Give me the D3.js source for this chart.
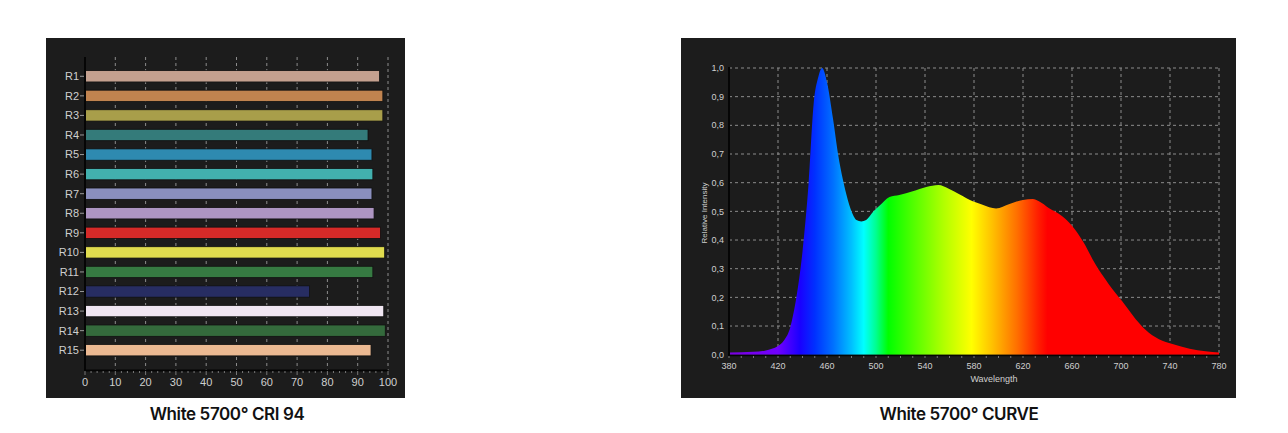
<!DOCTYPE html>
<html>
<head>
<meta charset="UTF-8">
<title>White 5700</title>
<script src="https://d3js.org/d3.v7.min.js"></script>
<style>
  body { margin: 0; background: #fff; }
  svg { display: block; }
  .cap { font-family: Inter, "Liberation Sans", sans-serif; font-weight: 600; font-size: 17px; letter-spacing: -0.4px; fill: #111; }
  .lbl { font-family: "Liberation Sans", Arial, sans-serif; fill: #cfcfcf; }
</style>
</head>
<body>
<svg id="chart" width="1288" height="433"></svg>
<script>
// CRI bars
const criNames = ["R1","R2","R3","R4","R5","R6","R7","R8","R9","R10","R11","R12","R13","R14","R15"];
const criValues = [97.2, 98.3, 98.3, 93.4, 94.7, 95.0, 94.7, 95.4, 97.5, 98.9, 95.0, 74.1, 98.6, 99.1, 94.4];
const criColors = ["#c4a08f","#c0834f","#a89e4a","#347b7a","#2e8ab0","#42b0ae","#8a8fbe","#ad95c2",
                   "#d62a28","#e0dc4e","#367a42","#272d62","#f0e6f2","#346a3c","#ebb992"];
const criTicks = [0,10,20,30,40,50,60,70,80,90,100];

// spectrum curve
const wavelengths = [380,400,410,420,425,430,435,440,445,449,453,456,460,465,469,473,477,481,484,488,492,498,503,511,519,530,541,551,559,568,579,587,598,609,620,628,633,641,652,660,669,679,690,701,712,720,731,742,756,769,780];
const intensity   = [0.008,0.01,0.015,0.03,0.05,0.095,0.2,0.36,0.6,0.87,0.97,1.0,0.95,0.82,0.7,0.61,0.54,0.49,0.47,0.465,0.47,0.5,0.52,0.55,0.557,0.57,0.585,0.592,0.58,0.56,0.535,0.523,0.51,0.526,0.54,0.543,0.535,0.512,0.483,0.45,0.395,0.316,0.246,0.186,0.124,0.087,0.054,0.037,0.021,0.012,0.008];
const xTicksNm = [380,420,460,500,540,580,620,660,700,740,780];
const yTicks = [0,0.1,0.2,0.3,0.4,0.5,0.6,0.7,0.8,0.9,1.0];
const spectrumStops = [
  [380,"#7a00e0"],[420,"#7000ff"],[438,"#1a00ff"],[450,"#0030ff"],[465,"#0070ff"],[480,"#00c0ff"],
  [490,"#00ffff"],[500,"#00ff90"],[510,"#00ff00"],[530,"#50ff00"],[555,"#b0ff00"],[578,"#ffff00"],
  [595,"#ffc000"],[615,"#ff7000"],[632,"#ff2000"],[640,"#ff0000"],[780,"#ff0000"]
];

const svg = d3.select("#chart");
const gridCol = "#8c8c8c";

// ---------- left panel ----------
svg.append("rect").attr("x", 46).attr("y", 38).attr("width", 359).attr("height", 360).attr("fill", "#1c1c1c");

const x1 = d3.scaleLinear().domain([0, 100]).range([85, 388]);
const y1 = d3.scaleBand().domain(criNames).range([66.5, 360]).paddingInner(0.42).paddingOuter(0.21);

const g1 = svg.append("g");
g1.selectAll(".vg").data(criTicks.slice(1)).enter().append("line")
  .attr("x1", d => x1(d)).attr("x2", d => x1(d)).attr("y1", 57).attr("y2", 370)
  .attr("stroke", gridCol).attr("stroke-dasharray", "3,3");

g1.selectAll(".bar").data(criNames).enter().append("rect")
  .attr("x", x1(0)).attr("y", d => y1(d))
  .attr("width", (d, i) => x1(criValues[i]) - x1(0)).attr("height", y1.bandwidth())
  .attr("fill", (d, i) => criColors[i]).attr("stroke", "#111").attr("stroke-width", 0.8);

// axes
g1.append("line").attr("x1", 85).attr("x2", 85).attr("y1", 57).attr("y2", 371).attr("stroke", "#050505").attr("stroke-width", 2);
g1.append("line").attr("x1", 84).attr("x2", 388).attr("y1", 370.5).attr("y2", 370.5).attr("stroke", "#050505").attr("stroke-width", 2);
g1.selectAll(".mt").data(d3.range(0, 101, 2)).enter().append("line")
  .attr("x1", d => x1(d)).attr("x2", d => x1(d)).attr("y1", 371).attr("y2", d => d % 10 === 0 ? 375 : 373)
  .attr("stroke", "#777");
g1.selectAll(".yt").data(criNames).enter().append("line")
  .attr("x1", 80).attr("x2", 84).attr("y1", d => y1(d) + y1.bandwidth() / 2).attr("y2", d => y1(d) + y1.bandwidth() / 2)
  .attr("stroke", "#999");
g1.selectAll(".yl").data(criNames).enter().append("text").attr("class", "lbl")
  .attr("x", 79).attr("y", d => y1(d) + y1.bandwidth() / 2).attr("dy", "0.35em")
  .attr("text-anchor", "end").attr("font-size", 11).text(d => d);
g1.selectAll(".xl").data(criTicks).enter().append("text").attr("class", "lbl")
  .attr("x", d => x1(d)).attr("y", 386).attr("text-anchor", "middle").attr("font-size", 11).text(d => d);

svg.append("text").attr("class", "cap").attr("x", 227).attr("y", 420).attr("text-anchor", "middle").text("White 5700° CRI 94");

// ---------- right panel ----------
svg.append("rect").attr("x", 681).attr("y", 38).attr("width", 555).attr("height", 360).attr("fill", "#1c1c1c");

const x2 = d3.scaleLinear().domain([380, 780]).range([729, 1219]);
const y2 = d3.scaleLinear().domain([0, 1]).range([354.7, 68]);

const grad = svg.append("defs").append("linearGradient").attr("id", "spec")
  .attr("gradientUnits", "userSpaceOnUse").attr("x1", x2(380)).attr("x2", x2(780)).attr("y1", 0).attr("y2", 0);
grad.selectAll("stop").data(spectrumStops).enter().append("stop")
  .attr("offset", d => (d[0] - 380) / 400).attr("stop-color", d => d[1]);

const g2 = svg.append("g");
g2.selectAll(".hg").data(yTicks.slice(1)).enter().append("line")
  .attr("x1", x2(380)).attr("x2", x2(780)).attr("y1", d => y2(d)).attr("y2", d => y2(d))
  .attr("stroke", gridCol).attr("stroke-dasharray", "3,3");
g2.selectAll(".vg").data(xTicksNm.slice(1)).enter().append("line")
  .attr("x1", d => x2(d)).attr("x2", d => x2(d)).attr("y1", y2(1)).attr("y2", y2(0))
  .attr("stroke", gridCol).attr("stroke-dasharray", "3,3");

const pts = wavelengths.map((w, i) => [w, intensity[i]]);
const area = d3.area().x(d => x2(d[0])).y0(y2(0)).y1(d => y2(d[1])).curve(d3.curveMonotoneX);
g2.append("path").datum(pts).attr("d", area).attr("fill", "url(#spec)");

g2.append("line").attr("x1", 729).attr("x2", 729).attr("y1", 67).attr("y2", 356).attr("stroke", "#050505").attr("stroke-width", 2);
g2.append("line").attr("x1", 728).attr("x2", 1220).attr("y1", 355.5).attr("y2", 355.5).attr("stroke", "#050505").attr("stroke-width", 1.5);
g2.selectAll(".mt").data(d3.range(380, 781, 10)).enter().append("line")
  .attr("x1", d => x2(d)).attr("x2", d => x2(d)).attr("y1", 356).attr("y2", 358).attr("stroke", "#777");

g2.selectAll(".yl").data(yTicks).enter().append("text").attr("class", "lbl")
  .attr("x", 724).attr("y", d => y2(d)).attr("dy", "0.35em").attr("text-anchor", "end").attr("font-size", 9)
  .text(d => d3.format(".1f")(d).replace(".", ","));
g2.selectAll(".xl").data(xTicksNm).enter().append("text").attr("class", "lbl")
  .attr("x", d => x2(d)).attr("y", 369).attr("text-anchor", "middle").attr("font-size", 9).text(d => d);
g2.append("text").attr("class", "lbl").attr("x", x2(580) + 20).attr("y", 382).attr("text-anchor", "middle")
  .attr("font-size", 9).text("Wavelength");
g2.append("text").attr("class", "lbl").attr("transform", "translate(707,213) rotate(-90)")
  .attr("text-anchor", "middle").attr("font-size", 8).text("Relative Intensity");

svg.append("text").attr("class", "cap").attr("x", 959).attr("y", 420).attr("text-anchor", "middle").text("White 5700° CURVE");
</script>
</body>
</html>
